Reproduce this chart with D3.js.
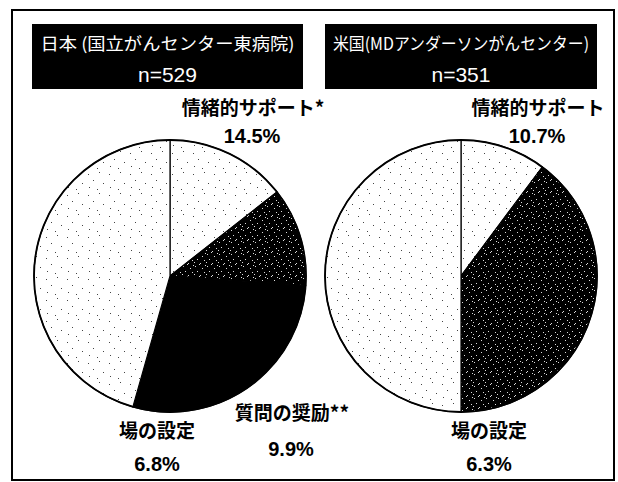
<!DOCTYPE html>
<html>
<head>
<meta charset="utf-8">
<script src="https://cdn.jsdelivr.net/npm/d3@7/dist/d3.min.js"></script>
<style>
  body { margin: 0; background: #fff; }
  svg { display: block; }
</style>
</head>
<body>
<svg id="canvas"></svg>
<script>
// values
let groupNames = ["日本 (国立がんセンター東病院)", "米国(MDアンダーソンがんセンター)"]
let sampleSizes = [529, 351]

// slice shares clockwise from 12 o'clock (estimated from the drawn angles)
let japanShares = [14.4, 11.7, 28.3, 45.6]
let usShares = [10.2, 39.8, 50.0]

// callout labels and the percentages printed next to them
let japanLabels = ["情緒的サポート*", "質問の奨励**", "場の設定"]
let japanPercents = [14.5, 9.9, 6.8]
let usLabels = ["情緒的サポート", "場の設定"]
let usPercents = [10.7, 6.3]

let width = 618
let height = 482
let radius = 136

let canvas = d3.select("#canvas")
  .attr("width", width)
  .attr("height", height)

let jpFont = "'Noto Sans CJK JP', 'Noto Sans', sans-serif"
let numFont = "'Liberation Sans', Arial, sans-serif"

// stipple patterns that stand in for the halftone screens of the scan
let defs = canvas.append("defs")

let lightDots = [[2, 3], [13, 1], [7, 9], [17, 12], [3, 16], [11, 18]]
let light = defs.append("pattern")
  .attr("id", "light")
  .attr("width", 21).attr("height", 21)
  .attr("patternUnits", "userSpaceOnUse")
light.append("rect").attr("width", 21).attr("height", 21).attr("fill", "#fff")
light.selectAll("rect.d").data(lightDots).enter().append("rect")
  .attr("class", "d")
  .attr("x", d => d[0]).attr("y", d => d[1])
  .attr("width", 1).attr("height", 1)
  .attr("fill", "#444")

let darkDots = [[1, 2], [5, 0], [8, 4], [3, 7], [10, 8], [6, 11], [0, 10], [11, 1]]
let dark = defs.append("pattern")
  .attr("id", "dark")
  .attr("width", 12).attr("height", 12)
  .attr("patternUnits", "userSpaceOnUse")
dark.append("rect").attr("width", 12).attr("height", 12).attr("fill", "#000")
dark.selectAll("rect.d").data(darkDots).enter().append("rect")
  .attr("class", "d")
  .attr("x", d => d[0]).attr("y", d => d[1])
  .attr("width", 1).attr("height", 1)
  .attr("fill", "#ddd")

// outer frame
canvas.append("rect")
  .attr("x", 12).attr("y", 10)
  .attr("width", 602).attr("height", 470)
  .attr("fill", "none")
  .attr("stroke", "#000")
  .attr("stroke-width", 2)

let pie = d3.pie().sort(null).value(d => d)
let arc = d3.arc().innerRadius(0).outerRadius(radius)

let panels = [
  {
    shares: japanShares,
    fills: ["url(#light)", "url(#dark)", "#000", "url(#light)"],
    cx: 170, cy: 276, boxX: 32, boxW: 271, textW: 254,
    labels: japanLabels, percents: japanPercents,
    spots: [[253, 115, 252, 143], [292, 420, 291, 456], [157, 438, 157, 471]]
  },
  {
    shares: usShares,
    fills: ["url(#light)", "url(#dark)", "url(#light)"],
    cx: 461, cy: 276, boxX: 325, boxW: 272, textW: 256,
    labels: usLabels, percents: usPercents,
    spots: [[538, 115, 537, 143], [489, 438, 489, 471]]
  }
]

panels.forEach((p, i) => {
  // black title box
  canvas.append("rect")
    .attr("x", p.boxX).attr("y", 24)
    .attr("width", p.boxW).attr("height", 65)
    .attr("fill", "#000")

  canvas.append("text")
    .attr("x", p.boxX + (p.boxW - p.textW) / 2).attr("y", 50)
    .attr("textLength", p.textW)
    .attr("lengthAdjust", "spacingAndGlyphs")
    .attr("fill", "#fff")
    .style("font-family", jpFont)
    .style("font-size", "17px")
    .text(groupNames[i])

  canvas.append("text")
    .attr("x", p.boxX + p.boxW / 2).attr("y", 82)
    .attr("text-anchor", "middle")
    .attr("fill", "#fff")
    .style("font-family", numFont)
    .style("font-size", "21px")
    .text("n=" + sampleSizes[i])

  // the pie itself
  let g = canvas.append("g")
    .attr("transform", "translate(" + p.cx + "," + p.cy + ")")

  g.selectAll("path")
    .data(pie(p.shares))
    .enter()
    .append("path")
    .attr("d", arc)
    .attr("fill", (d, j) => p.fills[j])
    .attr("stroke", "#000")
    .attr("stroke-width", 1.2)

  g.append("circle")
    .attr("r", radius)
    .attr("fill", "none")
    .attr("stroke", "#000")
    .attr("stroke-width", 1.8)

  // callouts
  p.labels.forEach((name, j) => {
    let s = p.spots[j]
    canvas.append("text")
      .attr("x", s[0]).attr("y", s[1])
      .attr("text-anchor", "middle")
      .style("font-family", jpFont)
      .style("font-weight", "bold")
      .style("font-size", "19px")
      .text(name)
    canvas.append("text")
      .attr("x", s[2]).attr("y", s[3])
      .attr("text-anchor", "middle")
      .style("font-family", numFont)
      .style("font-weight", "bold")
      .style("font-size", "20px")
      .text(p.percents[j].toFixed(1) + "%")
  })
})
</script>
</body>
</html>
